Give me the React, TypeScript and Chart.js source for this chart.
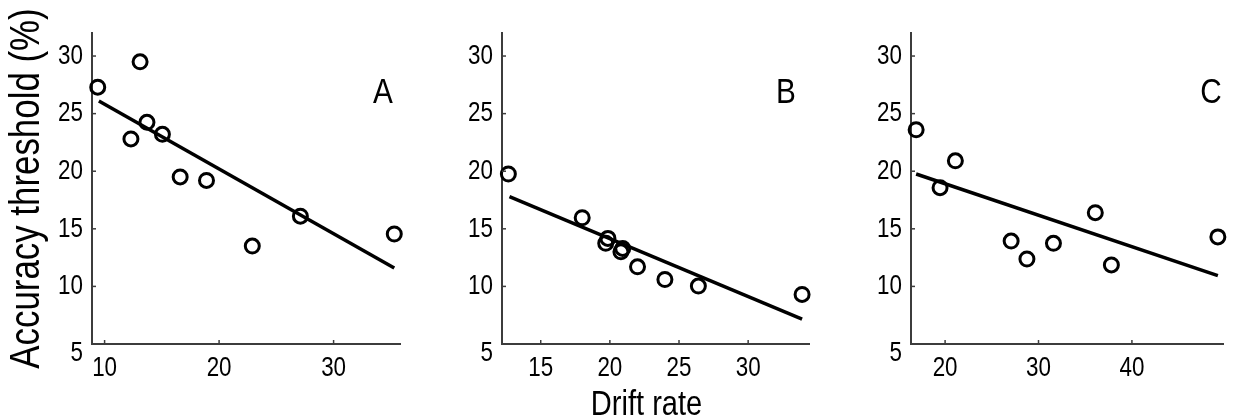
import React, { useEffect, useRef } from 'react';
import { Chart, registerables } from 'chart.js';

Chart.register(...registerables);

// ---------- data ----------
const Y_MIN = 5;
const Y_MAX = 32;
const Y_STEP = 5;
const Y_TITLE = 'Accuracy threshold (%)';
const X_TITLE = 'Drift rate';

const PANEL_LETTERS = ['A', 'B', 'C'];

const A_DRIFT = [9.4, 13.1, 13.7, 12.3, 15.05, 16.6, 18.9, 22.9, 27.1, 35.3];
const A_THRESH = [27.3, 29.5, 24.25, 22.8, 23.2, 19.5, 19.2, 13.5, 16.1, 14.55];
const A_FIT_X = [9.5, 35.3];
const A_FIT_Y = [26.1, 11.6];
const A_X_RANGE = [8.9, 35.8];
const A_X_STEP = 10;

const B_DRIFT = [12.66, 18.0, 19.86, 19.7, 20.93, 20.8, 22.0, 23.98, 26.4, 33.9];
const B_THRESH = [19.76, 15.96, 14.17, 13.74, 13.3, 13.0, 11.7, 10.6, 10.03, 9.3];
const B_FIT_X = [12.74, 33.9];
const B_FIT_Y = [17.8, 7.15];
const B_X_RANGE = [12.2, 34.4];
const B_X_STEP = 5;

const C_DRIFT = [16.9, 19.46, 21.1, 27.07, 28.76, 31.6, 36.08, 37.8, 49.2];
const C_THRESH = [23.6, 18.57, 20.9, 13.94, 12.38, 13.74, 16.4, 11.86, 14.3];
const C_FIT_X = [16.9, 49.2];
const C_FIT_Y = [19.76, 10.93];
const C_X_RANGE = [16.35, 49.75];
const C_X_STEP = 10;

// ---------- style ----------
const FONT = "'Liberation Sans', Arial, Helvetica, sans-serif";
const AXIS_COLOR = '#3c3c3c';
const H = 420;
const Y_AXIS_W = 92;
const X_AXIS_H = 76;
const TOP_PAD = 33;
const TICK_SIZE = 28;
const NARROW = 0.8;

type PanelDef = {
  letter: string;
  drift: number[];
  thresh: number[];
  fitX: number[];
  fitY: number[];
  xRange: number[];
  xStep: number;
  left: number;
  width: number;
  rightPad: number;
  letterDx: number;
  yTitle: boolean;
  xTitle: boolean;
};

const PANELS: PanelDef[] = [
  { letter: PANEL_LETTERS[0], drift: A_DRIFT, thresh: A_THRESH, fitX: A_FIT_X, fitY: A_FIT_Y, xRange: A_X_RANGE, xStep: A_X_STEP, left: 0, width: 410, rightPad: 7, letterDx: -17, yTitle: true, xTitle: false },
  { letter: PANEL_LETTERS[1], drift: B_DRIFT, thresh: B_THRESH, fitX: B_FIT_X, fitY: B_FIT_Y, xRange: B_X_RANGE, xStep: B_X_STEP, left: 410, width: 409, rightPad: 6, letterDx: -23, yTitle: false, xTitle: true },
  { letter: PANEL_LETTERS[2], drift: C_DRIFT, thresh: C_THRESH, fitX: C_FIT_X, fitY: C_FIT_Y, xRange: C_X_RANGE, xStep: C_X_STEP, left: 819, width: 416, rightPad: 12, letterDx: -12, yTitle: false, xTitle: false },
];

function narrowText(
  ctx: CanvasRenderingContext2D,
  text: string,
  x: number,
  y: number,
  size: number,
  sx: number,
  align: CanvasTextAlign,
  baseline: CanvasTextBaseline,
  rotate = 0
) {
  ctx.save();
  ctx.translate(x, y);
  if (rotate) ctx.rotate(rotate);
  ctx.scale(sx, 1);
  ctx.font = `${size}px ${FONT}`;
  ctx.fillStyle = '#000';
  ctx.textAlign = align;
  ctx.textBaseline = baseline;
  ctx.fillText(text, 0, 0);
  ctx.restore();
}

function makeDecor(p: PanelDef) {
  return {
    id: 'decor' + p.letter,
    afterDraw(chart: any) {
      const { ctx, chartArea, scales } = chart;
      const xs = scales.x;
      const ys = scales.y;
      ctx.save();
      ctx.strokeStyle = AXIS_COLOR;
      ctx.lineWidth = 1.5;
      xs.ticks.forEach((t: any) => {
        const px = xs.getPixelForValue(t.value);
        ctx.beginPath();
        ctx.moveTo(px, chartArea.bottom);
        ctx.lineTo(px, chartArea.bottom - 4);
        ctx.stroke();
      });
      ys.ticks.forEach((t: any) => {
        const py = ys.getPixelForValue(t.value);
        ctx.beginPath();
        ctx.moveTo(chartArea.left, py);
        ctx.lineTo(chartArea.left + 4, py);
        ctx.stroke();
      });
      ctx.restore();

      // tick labels (narrow face emulation)
      xs.ticks.forEach((t: any) => {
        const px = xs.getPixelForValue(t.value);
        narrowText(ctx, String(t.value), px, chartArea.bottom + 24, TICK_SIZE, NARROW, 'center', 'middle');
      });
      ys.ticks.forEach((t: any) => {
        const py = ys.getPixelForValue(t.value) + (t.value === Y_MIN ? 9 : 0);
        narrowText(ctx, String(t.value), chartArea.left - 9, py, TICK_SIZE, NARROW, 'right', 'middle');
      });

      // panel letter
      narrowText(ctx, p.letter, chartArea.right + p.letterDx, chartArea.top + 70, 35, 0.85, 'center', 'alphabetic');

      // axis titles
      if (p.yTitle) {
        narrowText(ctx, Y_TITLE, 27.5, (chartArea.top + chartArea.bottom) / 2, 42, 0.83, 'center', 'middle', -Math.PI / 2);
      }
      if (p.xTitle) {
        narrowText(ctx, X_TITLE, (chartArea.left + chartArea.right) / 2 - 9, 415, 35, 0.83, 'center', 'alphabetic');
      }
    },
  };
}

function Panel({ p }: { p: PanelDef }) {
  const ref = useRef<HTMLCanvasElement | null>(null);
  useEffect(() => {
    if (!ref.current) return;
    const points = p.drift.map((x, i) => ({ x, y: p.thresh[i] }));
    const fit = p.fitX.map((x, i) => ({ x, y: p.fitY[i] }));
    const chart = new Chart(ref.current, {
      type: 'scatter',
      data: {
        datasets: [
          {
            data: fit,
            showLine: true,
            borderColor: '#000',
            borderWidth: 3.5,
            pointRadius: 0,
            fill: false,
          } as any,
          {
            data: points,
            borderColor: '#000',
            backgroundColor: 'rgba(0,0,0,0)',
            borderWidth: 3,
            pointRadius: 7,
            clip: false,
          } as any,
        ],
      },
      options: {
        animation: false,
        responsive: false,
        devicePixelRatio: 1,
        layout: { padding: { top: TOP_PAD, right: p.rightPad, left: 0, bottom: 0 } },
        plugins: { legend: { display: false }, tooltip: { enabled: false } },
        scales: {
          x: {
            type: 'linear',
            min: p.xRange[0],
            max: p.xRange[1],
            grid: { display: false, drawTicks: false },
            border: { display: true, color: AXIS_COLOR, width: 2 },
            ticks: { stepSize: p.xStep, includeBounds: false, display: false },
            afterFit(s: any) {
              s.height = X_AXIS_H;
            },
          },
          y: {
            type: 'linear',
            min: Y_MIN,
            max: Y_MAX,
            grid: { display: false, drawTicks: false },
            border: { display: true, color: AXIS_COLOR, width: 2 },
            ticks: { stepSize: Y_STEP, includeBounds: false, display: false },
            afterFit(s: any) {
              s.width = Y_AXIS_W;
            },
          },
        },
      },
      plugins: [makeDecor(p)],
    });
    return () => chart.destroy();
  }, [p]);
  return (
    <canvas
      ref={ref}
      width={p.width}
      height={H}
      style={{ position: 'absolute', left: p.left, top: 0, width: p.width, height: H }}
    />
  );
}

export default function App() {
  return (
    <div style={{ position: 'fixed', left: 0, top: 0, width: 1235, height: H, background: '#fff' }}>
      {PANELS.map((p) => (
        <Panel key={p.letter} p={p} />
      ))}
    </div>
  );
}
